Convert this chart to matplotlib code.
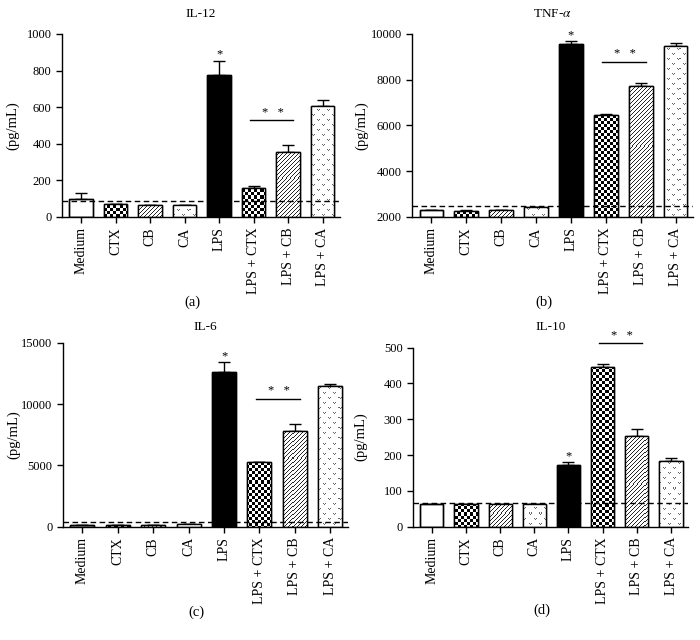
import numpy as np
import matplotlib
matplotlib.use('Agg')
import matplotlib.pyplot as plt

plt.rcParams['font.family'] = ['Liberation Serif', 'DejaVu Serif']
plt.rcParams['mathtext.fontset'] = 'stix'
plt.rcParams['font.size'] = 8.5
plt.rcParams['axes.linewidth'] = 1.0

categories = ['Medium', 'CTX', 'CB', 'CA', 'LPS', 'LPS + CTX', 'LPS + CB', 'LPS + CA']
patterns = ['white', 'checker', 'diag', 'heart', 'black', 'checker', 'diag', 'heart']

il12 = [98, 71, 65, 65, 775, 160, 356, 604]
il12_err = [35, 2, 2, 2, 78, 7, 35, 36]
tnf = [2290, 2280, 2290, 2440, 9580, 6440, 7730, 9480]
tnf_err = [25, 15, 15, 15, 117, 44, 116, 117]
il6 = [100, 100, 100, 220, 12650, 5240, 7770, 11510]
il6_err = [20, 20, 20, 20, 790, 50, 600, 160]
il10 = [63, 62, 62, 62, 171, 446, 254, 182]
il10_err = [1, 1, 1, 1, 9, 9, 18, 9]

panels = [
    dict(title='IL-12', label='(a)', vals=il12, err=il12_err, base=87, sig=529,
         ylim=(0, 1000), yticks=[0, 200, 400, 600, 800, 1000],
         pos=[0.0886, 0.661, 0.397, 0.286], tpad=12.5, ylx=-0.155),
    dict(title='TNF-$\\alpha$', label='(b)', vals=tnf, err=tnf_err, base=2465, sig=8778,
         ylim=(2000, 10000), yticks=[2000, 4000, 6000, 8000, 10000],
         pos=[0.589, 0.661, 0.401, 0.286], tpad=12.5, ylx=-0.155),
    dict(title='IL-6', label='(c)', vals=il6, err=il6_err, base=355, sig=10445,
         ylim=(0, 15000), yticks=[0, 5000, 10000, 15000],
         pos=[0.090, 0.177, 0.407, 0.2875], tpad=9, ylx=-0.15),
    dict(title='IL-10', label='(d)', vals=il10, err=il10_err, base=67, sig=512,
         ylim=(0, 500), yticks=[0, 100, 200, 300, 400, 500],
         pos=[0.590, 0.177, 0.393, 0.280], tpad=12.5, ylx=-0.165),
]

fig = plt.figure(figsize=(7, 6.4), dpi=100)


def texture(kind, h, w):
    r, c = np.mgrid[0:h, 0:w]
    img = np.ones((h, w, 3))
    if kind == 'checker':
        m = ((r // 3) + (c // 3)) % 2 == 0
        img[m] = 0.0
    elif kind == 'diag':
        m = (r + c) % 4 == 0
        img[m] = 0.15
    elif kind == 'heart':
        P = 10
        m = np.zeros((h, w), bool)
        for (oy, ox) in [(0, 0), (5, 5)]:
            yy = (r - oy) % P
            xx = (c - ox) % P
            m |= ((yy == 0) & ((xx == 0) | (xx == 2))) | \
                 ((yy == 1) & (xx == 1))
        img[m] = 0.4
    return img


x = np.arange(len(categories))
for p in panels:
    ax = fig.add_axes(p['pos'])
    ax.set_xlim(-0.55, 7.5)
    ax.set_ylim(*p['ylim'])
    ymin = p['ylim'][0]
    heights = np.array(p['vals']) - ymin
    faces = ['black' if k == 'black' else 'white' for k in patterns]
    bars = ax.bar(x, heights, bottom=ymin, width=0.68, color=faces,
                  edgecolor='black', linewidth=1.0, zorder=2)
    bb = ax.get_window_extent()
    W, H = int(round(bb.width)), int(round(bb.height))
    for b, k in zip(bars, patterns):
        if k in ('checker', 'diag', 'heart'):
            im = ax.imshow(texture(k, H, W), extent=(*ax.get_xlim(), *ax.get_ylim()),
                           aspect='auto', interpolation='nearest', zorder=2.5)
            im.set_clip_path(b)
    ax.bar(x, heights, bottom=ymin, width=0.68, fill=False,
           edgecolor='black', linewidth=1.0, zorder=3)
    ax.set_xlim(-0.55, 7.5)
    ax.set_ylim(*p['ylim'])
    ax.errorbar(x, p['vals'], yerr=[np.zeros(len(x)), p['err']], fmt='none',
                ecolor='black', elinewidth=1.0, capsize=4, capthick=1.0, zorder=1.5)
    ax.axhline(p['base'], color='black', linestyle=(0, (4, 2.5)), linewidth=1.0, zorder=4)
    ax.plot([4.9, 6.15], [p['sig'], p['sig']], color='black', linewidth=1.0,
            clip_on=False, zorder=4)
    ax.annotate('*   *', xy=(5.55, p['sig']), xytext=(0, 1), textcoords='offset points',
                ha='center', va='bottom', fontsize=9, annotation_clip=False)
    ax.annotate('*', xy=(4, p['vals'][4] + p['err'][4]), xytext=(0, 0),
                textcoords='offset points', ha='center', va='bottom', fontsize=9,
                annotation_clip=False)
    ax.spines['top'].set_visible(False)
    ax.spines['right'].set_visible(False)
    ax.set_yticks(p['yticks'])
    ax.set_xticks(x)
    ax.set_xticklabels(categories, rotation=90, fontsize=10)
    ax.tick_params(axis='y', labelsize=9)
    ax.tick_params(direction='out', length=4, width=1.0)
    ax.set_ylabel('(pg/mL)', fontsize=10.5)
    ax.yaxis.set_label_coords(p['ylx'], 0.5)
    ax.set_title(p['title'], fontsize=9.5, pad=p['tpad'])
    ax.text(0.47, -0.465, p['label'], transform=ax.transAxes, ha='center', va='center',
            fontsize=10.5)

fig.savefig('out.png', dpi=100)
